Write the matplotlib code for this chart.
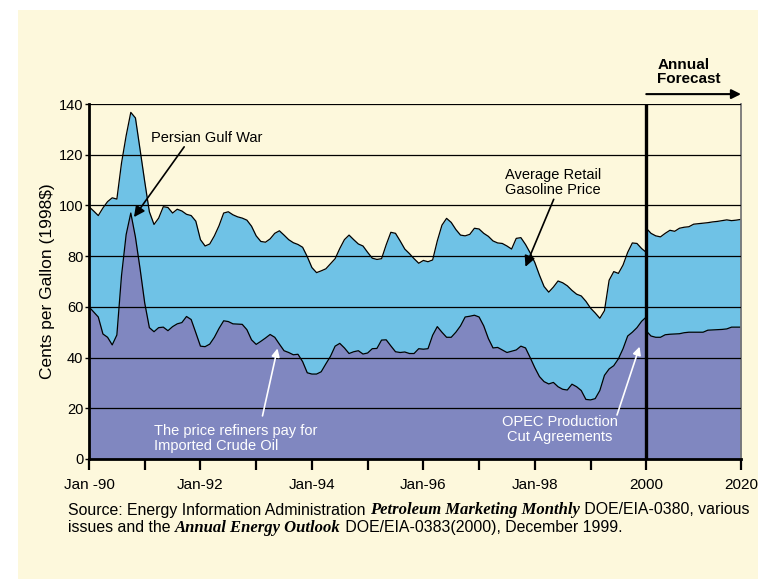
import numpy as np
import matplotlib.pyplot as plt
from matplotlib.patches import Rectangle

# Monthly prices Jan 1990 .. Jan 2000 (cents per gallon, 1998$)
gasoline = [99.5, 97.8, 96, 99, 101.5, 103, 102.5, 116.7, 127.5, 136.7,
            134.5, 122, 109.4, 97.5, 92.5, 95, 99.5, 99.2, 97, 98.5,
            97.8, 96.5, 96, 93.8, 86.5, 84, 84.8, 88, 92, 97,
            97.5, 96.3, 95.5, 95, 94.2, 91.8, 88, 85.8, 85.5, 86.8,
            89, 90, 88.3, 86.5, 85.3, 84.6, 83.5, 79.8, 75.5, 73.5,
            74.2, 75, 77, 79, 83, 86.5, 88.3, 86.5, 84.8, 84,
            81.5, 79.2, 78.7, 79, 84.5, 89.4, 89, 86, 82.8, 81,
            79, 77.2, 78.3, 77.8, 78.5, 86, 92.2, 94.9, 93.3, 90.5,
            88.3, 88, 88.6, 91, 90.7, 89, 87.8, 86, 85.2, 85,
            84, 82.8, 87, 87.3, 84.6, 81.3, 77.5, 72.5, 68, 65.8,
            67.8, 70.2, 69.5, 68.3, 66.5, 65, 64.3, 62.2, 59.5, 57.6,
            55.5, 58.5, 70.5, 73.9, 73.2, 76.5, 81.5, 85.2, 85, 83,
            81.5]
crude = [60, 58, 56, 49.3, 48, 45, 48.9, 72.3, 88.5, 97,
         87.5, 75, 61.5, 51.8, 50.2, 51.8, 52, 50.6, 52.2, 53.3,
         53.8, 56.2, 55, 49.8, 44.5, 44.3, 45.3, 48, 51.5, 54.5,
         54.2, 53.3, 53.2, 53.1, 51, 47, 45.2, 46.4, 47.7, 49.1,
         48, 45.3, 42.7, 42, 41.1, 41.3, 38.4, 34, 33.5, 33.5,
         34.4, 37.5, 40.5, 44.5, 45.6, 43.8, 41.6, 42.3, 42.7, 41.4,
         41.8, 43.5, 43.6, 46.9, 47, 44.6, 42.3, 42, 42.2, 41.6,
         41.6, 43.5, 43.3, 43.5, 48.8, 52.2, 50, 48, 48, 50,
         52.5, 56, 56.3, 56.7, 56, 52.5, 47.5, 43.8, 44, 43,
         42, 42.5, 43, 44.5, 43.8, 40, 36, 32.5, 30.5, 29.6,
         30.2, 28.5, 27.5, 27.2, 29.5, 28.5, 27, 23.5, 23.3, 23.8,
         27, 33, 35.5, 36.8, 39.5, 43.5, 48.5, 50, 51.8, 54.3,
         56]

# Annual forecast 2000 .. 2020
fc_years = list(range(2000, 2021))
fc_gasoline = [91, 89, 88, 87.6, 89, 90.2, 89.8, 91, 91.4, 91.6, 92.6,
               92.8, 93, 93.2, 93.5, 93.7, 94, 94.3, 94, 94.2, 94.5]
fc_crude = [50.5, 48.5, 48, 48, 49, 49.2, 49.3, 49.4, 49.8, 50, 50,
            50, 50, 50.8, 50.9, 51, 51.1, 51.3, 52, 52, 52]

xlabels = ["Jan -90", "Jan-92", "Jan-94", "Jan-96", "Jan-98", "2000", "2020"]
yticks = [0, 20, 40, 60, 80, 100, 120, 140]

cream = "#FDF8DC"
blue = "#6FC2E6"
purple = "#8087C0"
plt.rcParams['font.family'] = ['Liberation Sans', 'DejaVu Sans']

# x axis: years since 1990 for the monthly part, squeezed scale after 2000
fc_scale = 1.70 / 20
t_month = np.arange(len(gasoline)) / 12.0
t_fc = 10 + (np.array(fc_years) - 2000) * fc_scale
t_end = t_fc[-1]

fig = plt.figure(figsize=(7.58, 5.79), dpi=100)
fig.patch.set_facecolor("white")
fig.patches.append(Rectangle((18 / 758, 0), 1, 1 - 10 / 579, transform=fig.transFigure,
                             facecolor=cream, edgecolor="none", zorder=-10))
ax = fig.add_axes([89 / 758, 1 - 459 / 579, 652 / 758, 355 / 579])
ax.set_facecolor(cream)

for tt, g, c in [(t_month, gasoline, crude), (t_fc, fc_gasoline, fc_crude)]:
    ax.fill_between(tt, 0, g, color=blue, lw=0, zorder=1)
    ax.fill_between(tt, 0, c, color=purple, lw=0, zorder=1.5)
    ax.plot(tt, g, color="black", lw=0.9, zorder=2)
    ax.plot(tt, c, color="black", lw=0.9, zorder=2)

for v in yticks[1:]:
    ax.axhline(v, color="black", lw=0.9, zorder=3)
ax.axvline(10, color="black", lw=2.4, zorder=4)

ax.set_xlim(0, t_end)
ax.set_ylim(0, 140)
ax.set_yticks(yticks)
ax.tick_params(axis="y", direction="out", length=3, width=1, pad=1, labelsize=10.5)
major = [0, 2, 4, 6, 8, 10, t_end]
ax.set_xticks(major)
ax.set_xticklabels(xlabels)
ax.set_xticks([1, 3, 5, 7, 9], minor=True)
ax.tick_params(axis="x", which="both", direction="out", length=8, width=1.6,
               pad=6, labelsize=11)
ax.spines["top"].set_visible(False)
ax.spines["left"].set_linewidth(2)
ax.spines["bottom"].set_linewidth(2)
ax.spines["right"].set_color("#777777")
ax.spines["right"].set_linewidth(1.3)
ax.set_ylabel("Cents per Gallon (1998$)", fontsize=12.5, labelpad=3)

# annotations
ax.text(1.111, 126.6, "Persian Gulf War", ha="left", va="center", fontsize=10.5, zorder=6)
ax.annotate("", xy=(0.807, 95.4), xytext=(1.708, 123.1),
            arrowprops=dict(arrowstyle="-|>", color="black", lw=1.2,
                            mutation_scale=16, shrinkA=0, shrinkB=0), zorder=6)
ax.text(7.473, 109.1, "Average Retail\nGasoline Price",
        ha="left", va="center", fontsize=10.5, linespacing=1.1, zorder=6)
ax.annotate("", xy=(7.832, 75.8), xytext=(8.339, 102.4),
            arrowprops=dict(arrowstyle="-|>", color="black", lw=1.2,
                            mutation_scale=16, shrinkA=0, shrinkB=0), zorder=6)
ax.text(1.170, 8.0, "The price refiners pay for\nImported Crude Oil", color="white",
        ha="left", va="center", fontsize=10.5, linespacing=1.1, zorder=6)
ax.annotate("", xy=(3.382, 43.6), xytext=(3.113, 17.0),
            arrowprops=dict(arrowstyle="-|>", color="white", lw=1.2,
                            mutation_scale=12, shrinkA=0, shrinkB=0), zorder=6)
ax.text(8.45, 11.5, "OPEC Production\nCut Agreements", color="white",
        ha="center", va="center", fontsize=10.5, linespacing=1.1, zorder=6)
ax.annotate("", xy=(9.88, 44.3), xytext=(9.475, 17.35),
            arrowprops=dict(arrowstyle="-|>", color="white", lw=1.2,
                            mutation_scale=12, shrinkA=0, shrinkB=0), zorder=6)

# forecast marker above the plot
ax.annotate("", xy=(t_end, 143.9), xytext=(10, 143.9), annotation_clip=False,
            arrowprops=dict(arrowstyle="-|>", color="black", lw=1.5,
                            mutation_scale=14, shrinkA=0, shrinkB=0))
ax.text(10.197, 152.6, "Annual\nForecast", fontsize=11, fontweight="bold",
        ha="left", va="center", linespacing=1.05, clip_on=False)

# source note with mixed fonts
sans = dict(family="Liberation Sans", fontsize=11.4)
serif = dict(family="Liberation Serif", fontsize=12, style="italic", fontweight="bold")
lines = [
    [("Source: Energy Information Administration ", sans),
     ("Petroleum Marketing Monthly", serif),
     (" DOE/EIA-0380, various", sans)],
    [("issues and the ", sans), ("Annual Energy Outlook", serif),
     (" DOE/EIA-0383(2000), December 1999.", sans)],
]
renderer = fig.canvas.get_renderer()
for i, parts in enumerate(lines):
    x = 68
    y = 579 - (510 + i * 17.5)
    for txt, st in parts:
        t = fig.text(x / 758, y / 579, txt, va="center", ha="left", **st)
        bb = t.get_window_extent(renderer)
        x = bb.x1

fig.savefig("out.png", dpi=100, facecolor=fig.get_facecolor())
